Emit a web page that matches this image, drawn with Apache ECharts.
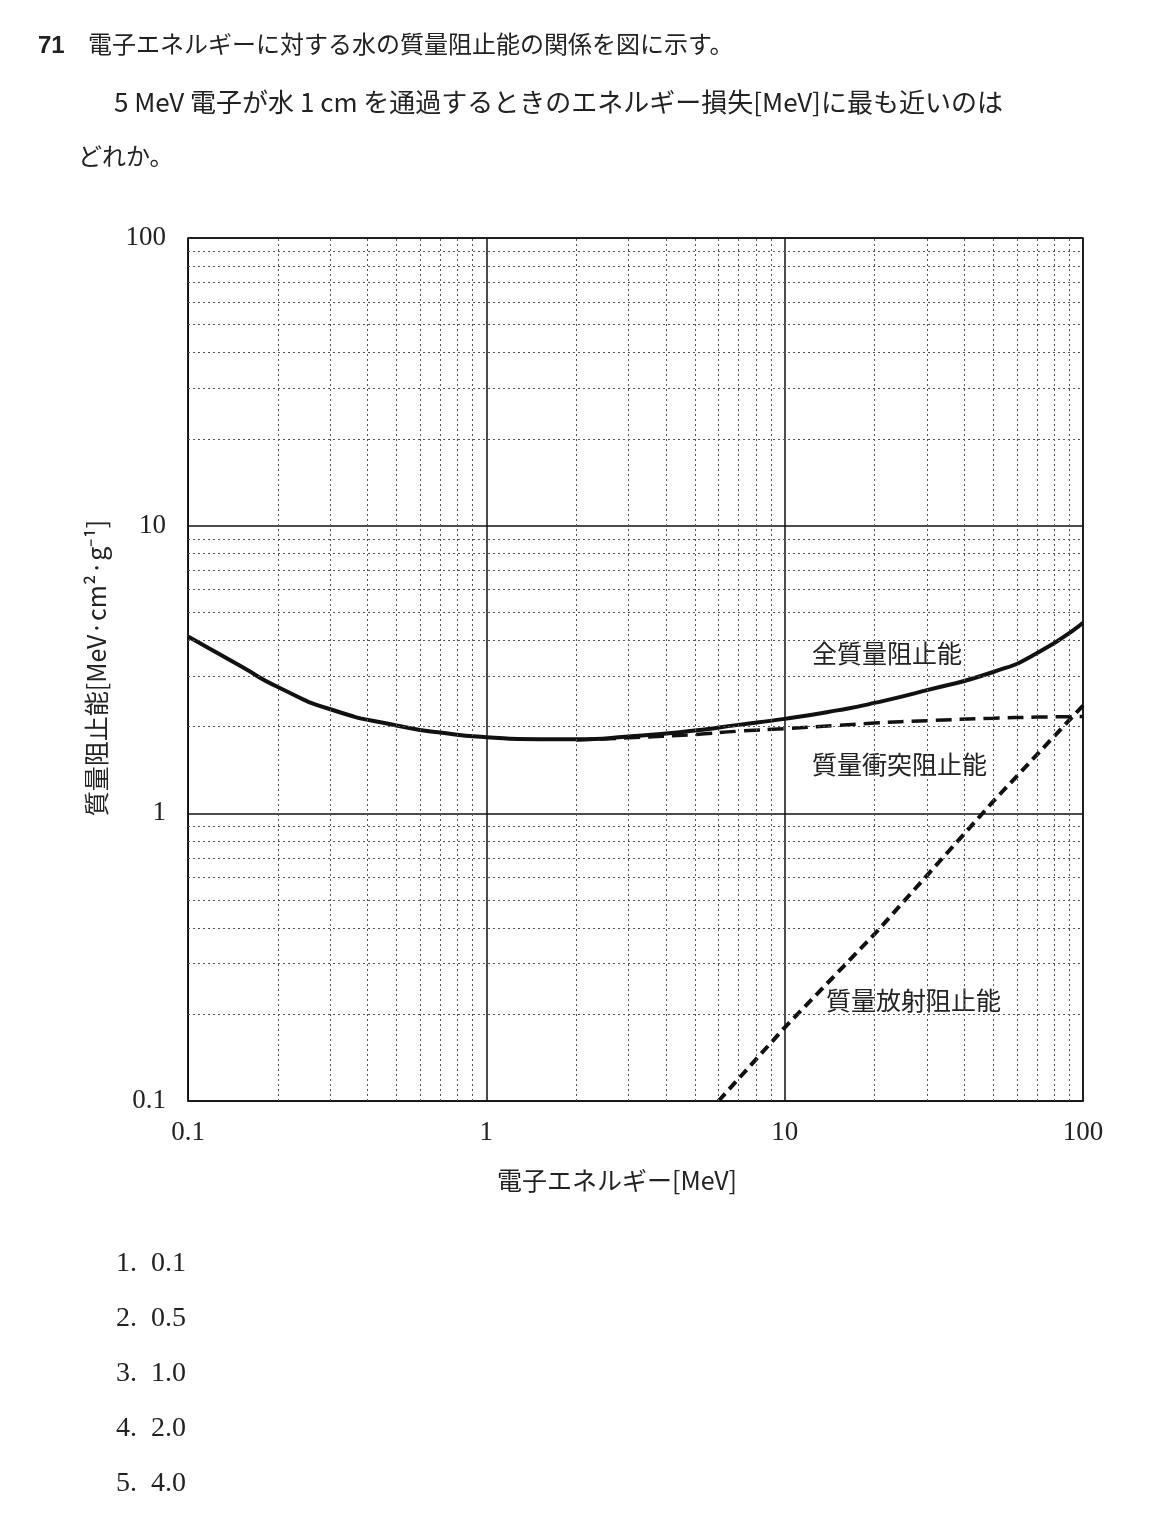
<!DOCTYPE html>
<html><head><meta charset="utf-8">
<script src="https://cdn.jsdelivr.net/npm/echarts@6/dist/echarts.min.js"></script>
<style>html,body{margin:0;padding:0;background:#fff}#c{width:1156px;height:1530px}</style>
</head><body><div id="c"></div>
<script>
const energy = [0.1,0.15,0.2,0.3,0.5,0.7,1,1.5,2,3,5,7,10,15,20,30,50,70,100];
const totalSP = [4.12,3.25,2.75,2.3,2.02,1.91,1.84,1.81,1.81,1.85,1.94,2.03,2.13,2.28,2.42,2.68,3.1,3.6,4.6];
const collEnergy = [2,3,5,7,10,15,20,30,50,70,100];
const collSP = [1.80,1.83,1.88,1.93,1.97,2.02,2.06,2.10,2.14,2.16,2.17];
const radEnergy = [6,10,20,50,100];
const radSP = [0.1,0.18,0.38,1.1,2.37];
const axisTicks = ['0.1','1','10','100'];
const minorVals = [];
[0.1,1,10].forEach(d=>{for(let k=2;k<=9;k++)minorVals.push(+(d*k).toPrecision(3));});
const options = ['1.\u20020.1','2.\u20020.5','3.\u20021.0','4.\u20022.0','5.\u20024.0'];

const serif = "'Liberation Serif','DejaVu Serif',serif";
const jp = "'Noto Sans CJK JP',sans-serif";
const chart = echarts.init(document.getElementById('c'));
const minorLines = minorVals.map(v=>({xAxis:v})).concat(minorVals.map(v=>({yAxis:v})));
const g = [
 {type:'text',left:38,top:34,style:{text:'71',font:"bold 24px 'Liberation Sans',sans-serif",fill:'#222'}},
 {type:'text',left:88,top:32,style:{text:'電子エネルギーに対する水の質量阻止能の関係を図に示す。',font:'24px '+jp,fill:'#222'}},
 {type:'text',left:114,top:89,style:{text:'5 MeV 電子が水 1 cm を通過するときのエネルギー損失[MeV]に最も近いのは',font:'26px '+jp,fill:'#222'}},
 {type:'text',left:78,top:144,style:{text:'どれか。',font:'24px '+jp,fill:'#222'}},
 {type:'text',left:812,top:641,style:{text:'全質量阻止能',font:'25px '+jp,fill:'#222'}},
 {type:'text',left:812,top:752,style:{text:'質量衝突阻止能',font:'25px '+jp,fill:'#222'}},
 {type:'text',left:826,top:988,style:{text:'質量放射阻止能',font:'25px '+jp,fill:'#222'}},
 {type:'text',left:497,top:1168,style:{text:'電子エネルギー[MeV]',font:'25px '+jp,fill:'#222'}},
 {type:'text',x:96,y:668,rotation:Math.PI/2,style:{text:'質量阻止能[MeV·cm²·g⁻¹]',font:'25px '+jp,fill:'#222',align:'center',verticalAlign:'middle'}}
];
options.forEach((t,i)=>g.push({type:'text',left:116,top:1250+i*55,style:{text:t,font:'28px '+serif,fill:'#222'}}));
chart.setOption({
 animation:false,
 graphic:g,
 grid:{left:188,top:238,width:895,height:863,show:true,borderColor:'#111',borderWidth:1.5},
 xAxis:{type:'log',min:0.1,max:100,logBase:10,axisLine:{lineStyle:{color:'#111'}},axisTick:{show:false},
   axisLabel:{margin:18,fontFamily:serif,fontSize:27,color:'#222',formatter:v=>axisTicks.find(t=>Math.abs(+t-v)<1e-6*v)||''},
   splitLine:{show:true,lineStyle:{color:'#111',width:1.5}}},
 yAxis:{type:'log',min:0.1,max:100,logBase:10,axisLine:{lineStyle:{color:'#111'}},axisTick:{show:false},
   axisLabel:{margin:22,fontFamily:serif,fontSize:27,color:'#222',formatter:v=>axisTicks.find(t=>Math.abs(+t-v)<1e-6*v)||''},
   splitLine:{show:true,lineStyle:{color:'#111',width:1.5}}},
 series:[
  {type:'line',data:[],silent:true,markLine:{silent:true,symbol:'none',label:{show:false},animation:false,
    lineStyle:{color:'#555',type:[2,3],width:1},data:minorLines}},
  {type:'line',smooth:0.6,showSymbol:false,data:energy.map((e,i)=>[e,totalSP[i]]),lineStyle:{color:'#111',width:4}},
  {type:'line',smooth:0.5,showSymbol:false,data:collEnergy.map((e,i)=>[e,collSP[i]]),lineStyle:{color:'#111',width:3.5,type:[16,8]}},
  {type:'line',showSymbol:false,data:radEnergy.map((e,i)=>[e,radSP[i]]),lineStyle:{color:'#111',width:4,type:[10,6]}}
 ]
});
</script></body></html>
